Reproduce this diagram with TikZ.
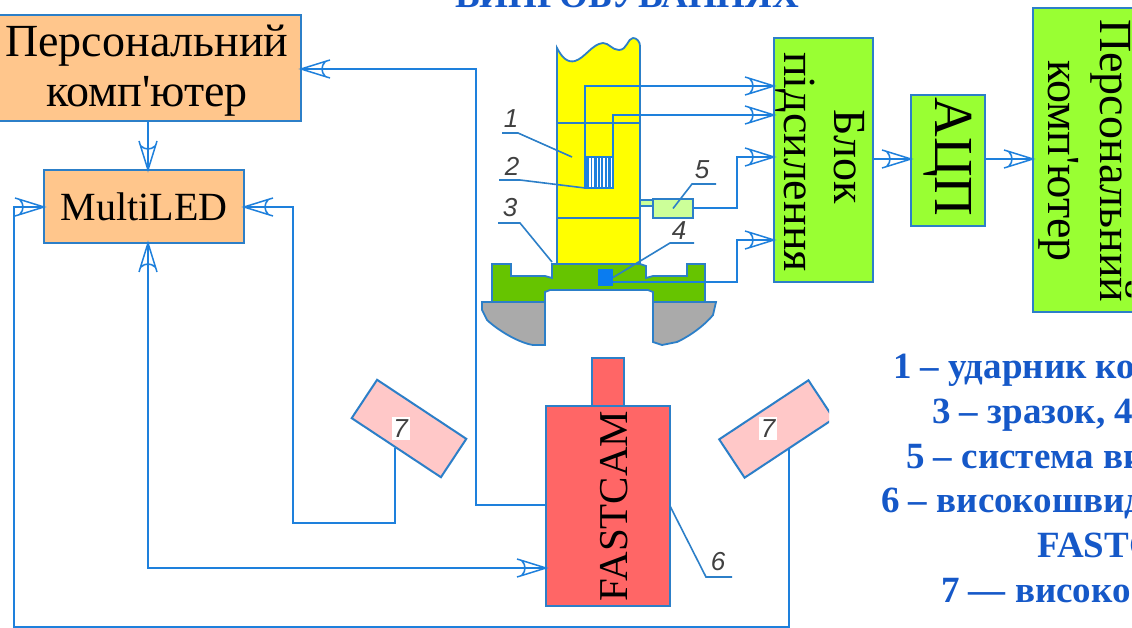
\documentclass[tikz,border=0pt]{standalone}
\usepackage{fontspec}
\newfontfamily\sr{Liberation Serif}
\newfontfamily\nm{Liberation Sans}
\usetikzlibrary{calc,arrows.meta}
\pgfdeclarearrow{
  name=Barb,
  setup code={
    \pgfarrowssettipend{0pt}
    \pgfarrowssetlineend{-0.5pt}
    \pgfarrowssetbackend{-29pt}
    \pgfarrowssetvisualbackend{-0.5pt}
    \pgfarrowshullpoint{0pt}{0pt}
    \pgfarrowshullpoint{-29pt}{9pt}
    \pgfarrowshullpoint{-29pt}{-9pt}
  },
  drawing code={
    \pgfsetdash{}{0pt}
    \pgfsetlinewidth{1.5pt}
    \pgfpathmoveto{\pgfqpoint{-29pt}{9pt}}
    \pgfpathlineto{\pgfqpoint{0pt}{0pt}}
    \pgfpathlineto{\pgfqpoint{-29pt}{-9pt}}
    \pgfpathmoveto{\pgfqpoint{-24pt}{7pt}}
    \pgfpathcurveto{\pgfqpoint{-20pt}{3pt}}{\pgfqpoint{-20pt}{-3pt}}{\pgfqpoint{-24pt}{-7pt}}
    \pgfusepathqstroke
  }
}
\definecolor{wireblue}{HTML}{1E80DC}
\definecolor{edgeblue}{HTML}{2C7FC8}
\definecolor{orangebox}{HTML}{FFC68C}
\definecolor{limebox}{HTML}{99FF33}
\definecolor{camred}{HTML}{FF6666}
\definecolor{lamp}{HTML}{FFC8C8}
\definecolor{titleblue}{HTML}{1558C8}
\definecolor{strikeryellow}{HTML}{FFFF00}
\tikzset{
  box/.style={draw=edgeblue,line width=2pt,inner sep=0pt,outer sep=0pt,font=\sr\fontsize{46}{50}\selectfont,text=black,align=center},
  wire/.style={draw=wireblue,line width=2pt},
  tipped/.style={wire,-{Barb}},
  leader/.style={draw=edgeblue,line width=1.6pt},
  part/.style={draw=edgeblue,line width=1.8pt},
  num/.style={font=\nm\itshape\fontsize{26}{26}\selectfont,text=black!75,inner sep=0pt},
  lamplabel/.style={num,fill=white,minimum width=18pt,minimum height=23pt},
  legend/.style={font=\sr\bfseries\fontsize{37}{37}\selectfont,text=titleblue,anchor=base west,inner sep=0pt},
  sidetext/.style={rotate=-90,font=\sr\fontsize{46}{50}\selectfont,align=center,inner sep=0pt,text=black}
}
\begin{document}
\begin{tikzpicture}[x=1pt,y=-1pt]
\useasboundingbox (0,0) rectangle (1132,628);
\fill[white] (0,0) rectangle (1132,628);
\clip (0,0) rectangle (1132,628);

% title
\node[font=\sr\bfseries\fontsize{37}{37}\selectfont,text=titleblue,anchor=base west,inner sep=0pt] (title) at (455,8) {ВИПРОБУВАННЯХ};

% left boxes
\node[box,fill=orangebox,minimum width=311pt,minimum height=106pt] (pc) at (145.5,68) {};
\node[font=\sr\fontsize{46}{50}\selectfont,align=center,inner sep=0pt] (pctext) at (147,71) {Персональний\\комп'ютер};
\node[box,fill=orangebox,minimum width=200pt,minimum height=73pt,font=\sr\fontsize{40}{40}\selectfont] (ml) at (144,206.5) {MultiLED};

% striker
\path[fill=strikeryellow,part] (557,48) .. controls (562,58) and (568,63) .. (575,61)
  .. controls (585,58) and (592,44) .. (603,43)
  .. controls (609,43) and (612,50) .. (619,50)
  .. controls (627,50) and (628,38) .. (633,38)
  .. controls (637,38) and (640,42) .. (640,46)
  -- (640,264) -- (557,264) -- cycle;
\draw[part] (557,123) -- (640,123);
\draw[part] (557,218) -- (640,218);

% specimen and supports
\path[fill={rgb,255:red,102;green,196;blue,0},part] (492,264) -- (511,264) -- (511,276) -- (545,276) -- (552,278) -- (552,264)
  -- (640,264) -- (646,266) -- (646,278) -- (653,276) -- (687,276) -- (687,264) -- (705,264) -- (705,302)
  -- (653,302) -- (653,292) -- (648,290) -- (550,290) -- (545,292) -- (545,302) -- (492,302) -- cycle;
\path[fill={rgb,255:red,170;green,170;blue,170},part] (482,302) -- (545,302) -- (545,345) -- (533,345)
  .. controls (520,343) and (500,332) .. (487,320) -- (482,310) -- cycle;
\path[fill={rgb,255:red,170;green,170;blue,170},part] (653,302) -- (716,302) -- (713,315)
  .. controls (705,325) and (690,336) .. (677,342) -- (662,345) -- (653,342) -- cycle;

% strain gauge
\node[draw=wireblue,line width=1.2pt,fill=white,minimum width=28pt,minimum height=31pt,inner sep=0pt,outer sep=0pt] (gauge) at (599,172.5) {};
\foreach \xs/\ws in {587.5/2.2,591.5/1.2,595/3,598.8/1.4,602/2.6,606/1.2,609.5/2.2}{
  \fill[wireblue] (\xs-\ws/2,157) rectangle (\xs+\ws/2,188);
}

% sensors
\node[part,fill={rgb,255:red,204;green,255;blue,153},minimum width=40pt,minimum height=19pt,inner sep=0pt,outer sep=0pt] (sys) at (673,208.5) {};
\path[part,fill={rgb,255:red,204;green,255;blue,153}] (640,200) rectangle (653,206);
\node[fill={rgb,255:red,10;green,124;blue,240},minimum width=15pt,minimum height=17pt,inner sep=0pt,outer sep=0pt] (sens) at (605.5,277.5) {};

% right blocks
\node[box,fill=limebox,minimum width=99pt,minimum height=244pt] (amp) at (823.5,160) {};
\node[sidetext] (amptext) at (820,162) {Блок\hspace*{10pt}\\підсилення};
\node[box,fill=limebox,minimum width=74pt,minimum height=131pt] (adc) at (948,160.5) {};
\node[sidetext,font=\sr\fontsize{55}{55}\selectfont] (adctext) at (948,157) {АЦП};
\node[box,fill=limebox,minimum width=112pt,minimum height=304pt] (pc2) at (1089,160) {};
\node[sidetext,font=\sr\fontsize{46}{52}\selectfont] (pc2text) at (1085,161) {Персональний\\комп'ютер};

% camera
\node[box,fill=camred,minimum width=32pt,minimum height=48pt] (lens) at (608,382) {};
\node[box,fill=camred,minimum width=124pt,minimum height=200pt] (cam) at (608,506) {};
\node[rotate=90,font=\sr\fontsize{41}{41}\selectfont,inner sep=0pt] (camtext) at (614,506) {FASTCAM};

% lamps
\node[box,fill=lamp,minimum width=107pt,minimum height=46pt,rotate=-33.5] (lampL) at (409,428.5) {};
\begin{scope}
  \clip (0,0) rectangle (829,628);
  \node[box,fill=lamp,minimum width=107pt,minimum height=46pt,rotate=33.5] (lampR) at (776.5,429) {};
\end{scope}
\node[lamplabel] (sevenL) at (400.5,428.5) {7};
\node[lamplabel] (sevenR) at (768,428.5) {7};

% named free ends
\coordinate (lampLout) at (395,448);
\coordinate (lampRout) at (789,449);
\coordinate (c1) at (737,157);
\coordinate (c2) at (737,240);
\coordinate (mlDown) at (148,243);

% connectors, left part
\draw[tipped] (148,121) -- (ml.north -| mlDown);
\draw[tipped] (cam.west |- 0,505) -- (476,505) -- (476,69) -- (pc.east |- 0,69);
\draw[tipped] (lampLout) -- (395,523) -- (293,523) -- (293,207) -- (ml.east |- 0,207);
\draw[tipped] (lampRout) -- (789,627) -- (14,627) -- (14,207) -- (ml.west |- 0,207);
\draw[wire,{Barb}-{Barb}] (mlDown) -- (148,568) -- (cam.west |- 0,568);

% connectors, right part
\draw[tipped] (gauge.north west) -- (585,86) -- (amp.west |- 0,86);
\draw[tipped] (gauge.north east) -- (613,115) -- (amp.west |- 0,115);
\draw[tipped] (sys.east) -| (c1) -- (amp.west |- c1);
\draw[tipped] (sens.east |- 0,282) -| (c2) -- (amp.west |- c2);
\draw[tipped] (amp.east |- 0,159) -- (adc.west |- 0,159);
\draw[tipped] (adc.east |- 0,159) -- (pc2.west |- 0,159);

% leaders
\draw[leader] (502,133) -- (518,133) -- (572,157);
\draw[leader] (499,180) -- (520,180) -- (gauge.south west);
\draw[leader] (498,223) -- (520,223) -- (552,262);
\draw[leader] (694,243) -- (670,243) -- (sens.east);
\draw[leader] (716,184) -- (692,184) -- (sys.center);
\draw[leader] (cam.east |- 0,506) -- (706,577) -- (732,577);

% item numbers
\node[num] (n1) at (511,119) {1};
\node[num] (n2) at (512,166) {2};
\node[num] (n3) at (510,208) {3};
\node[num] (n4) at (679,231) {4};
\node[num] (n5) at (702,170) {5};
\node[num] (n6) at (718,562) {6};

% legend
\node[legend] (l1) at (893,378) {1 – ударник ко};
\node[legend] (l2) at (932,423) {3 – зразок, 4};
\node[legend] (l3) at (906,468) {5 – система ви};
\node[legend] (l4) at (881,512) {6 – високошвид};
\node[legend] (l5) at (1037,557) {FASTC};
\node[legend] (l6) at (941,602) {7 — високо};
\end{tikzpicture}
\end{document}
